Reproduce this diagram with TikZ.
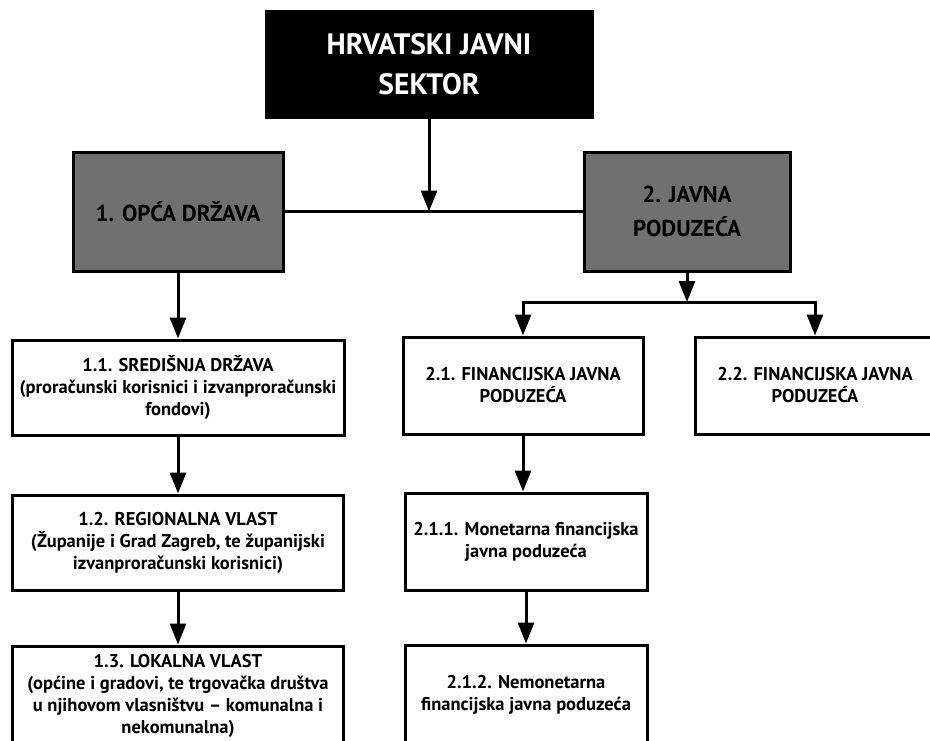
\documentclass[tikz,border=0pt]{standalone}
\usepackage{fontspec}
\setmainfont{PT Sans}
\usetikzlibrary{arrows.meta}
\tikzset{
  box/.style={draw=black, line width=3pt, fill=white, align=center, inner sep=2pt,
    font=\bfseries\fontsize{18.5}{22}\selectfont},
  graybox/.style={draw=black, line width=3pt, fill=black!56, align=center,
    font=\bfseries\fontsize{23}{34}\selectfont},
  titlebox/.style={draw=black, fill=black, text=white, align=center,
    font=\bfseries\fontsize{29.5}{40}\selectfont},
  conn/.style={line width=3pt},
  arr/.style={line width=3pt, -{Triangle[width=16pt,length=21pt]}},
}
\begin{document}
\begin{tikzpicture}[x=1pt,y=-1pt]
\useasboundingbox (0,0) rectangle (930,740);
% title
\node[titlebox, minimum width=328pt, minimum height=108pt] (top) at (429,64) {HRVATSKI JAVNI\\SEKTOR};
% level 1
\node[graybox, minimum width=210pt, minimum height=119pt] (og) at (178,211.5) {1. OPĆA DRŽAVA};
\node[graybox, minimum width=206pt, minimum height=119pt] (jp) at (687,211.5) {2. JAVNA\\PODUZEĆA};
% left column
\node[box, minimum width=332pt, minimum height=95pt] (s11) at (178,387.5)
  {1.1. SREDIŠNJA DRŽAVA\\(proračunski korisnici i izvanproračunski\\fondovi)};
\node[box, minimum width=331pt, minimum height=95pt] (s12) at (178,542.5)
  {1.2. REGIONALNA VLAST\\(Županije i Grad Zagreb, te županijski\\izvanproračunski korisnici)};
\node[box, minimum width=331pt, minimum height=99pt] (s13) at (178,695.5)
  {1.3. LOKALNA VLAST\\(općine i gradovi, te trgovačka društva\\u njihovom vlasništvu – komunalna i\\nekomunalna)};
% right columns
\node[box, minimum width=240pt, minimum height=97pt] (f21) at (523,385.5)
  {2.1. FINANCIJSKA JAVNA\\PODUZEĆA};
\node[box, minimum width=240pt, minimum height=97pt] (f22) at (815,385.5)
  {2.2. FINANCIJSKA JAVNA\\PODUZEĆA};
\node[box, minimum width=242pt, minimum height=97pt] (m211) at (526,541.5)
  {2.1.1. Monetarna financijska\\javna poduzeća};
\node[box, minimum width=242pt, minimum height=100pt] (n212) at (526,695)
  {2.1.2. Nemonetarna\\financijska javna poduzeća};
% junctions
\coordinate (j1) at (429,211.5);
\coordinate (j2) at (687,302);
% connectors
\draw[conn] (og.east) -- (jp.west);
\draw[arr] (top.south) -- (j1);
\draw[arr] (og.south) -- (og.south |- s11.north);
\draw[arr] (s11.south) -- (s11.south |- s12.north);
\draw[arr] (s12.south) -- (s12.south |- s13.north);
\draw[arr] (jp.south) -- (j2);
\draw[arr] (j2) -| (f21.north);
\draw[arr] (j2) -| (f22.north);
\draw[arr] (f21.south) -- (f21.south |- m211.north);
\draw[arr] (m211.south) -- (m211.south |- n212.north);
\end{tikzpicture}
\end{document}
